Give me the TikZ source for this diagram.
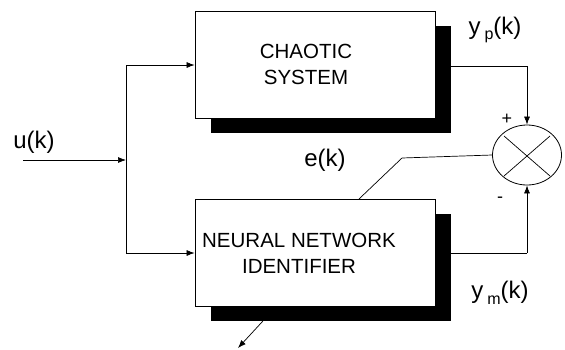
\documentclass[tikz,border=0pt]{standalone}
\usepackage{fontspec}
\setmainfont{Liberation Sans}
\usetikzlibrary{arrows.meta,shapes.geometric,shadows,calc}
\pgfdeclarelayer{background}
\pgfsetlayers{background,main}
\tikzset{
  blk/.style={draw, fill=white, line width=0.8pt, minimum width=240pt, minimum height=107pt, inner sep=0pt,
    drop shadow={shadow xshift=15.5pt, shadow yshift=-14.5pt, fill=black, opacity=1}},
  blktxt/.style={font=\fontsize{20.5}{26}\selectfont, align=center, inner sep=0pt},
  lbl/.style={font=\fontsize{24}{26}\selectfont, inner sep=0pt},
  sgn/.style={font=\fontsize{18}{20}\selectfont, inner sep=0pt},
  wire/.style={line width=0.7pt},
  arr/.style={wire, -{Latex[length=8pt,width=6pt]}}
}
\newcommand{\sbs}[1]{\raisebox{-0.45ex}{\fontsize{16}{16}\selectfont #1}}
\begin{document}
\begin{tikzpicture}[x=1pt,y=-1pt]
\useasboundingbox (0,0) rectangle (565,349);
% blocks
\node[blk] (cs) at (315,64.5) {};
\node[blk] (nn) at (315,253) {};
\node[blktxt] (cst) at (306,64) {CHAOTIC\\SYSTEM};
\node[blktxt] (nnt) at (299,253) {NEURAL NETWORK\\IDENTIFIER};
% summing junction
\node[draw, ellipse, line width=0.8pt, minimum width=69pt, minimum height=60pt, inner sep=0pt] (sum) at (527,155) {};
\draw[wire] ($(sum.center)+(-23,-19)$) -- ($(sum.center)+(23,21)$);
\draw[wire] ($(sum.center)+(23,-19)$) -- ($(sum.center)+(-23,21)$);
% coordinates
\coordinate (uin) at (23,160);
\coordinate (jn) at (126,160);
\coordinate (jt) at (126,65);
\coordinate (jb) at (126,253);
\coordinate (yp) at (527,66);
\coordinate (ym) at (527,253);
\coordinate (e1) at (402,158);
\coordinate (e2) at (359,199);
\coordinate (e3) at (262,322);
\coordinate (eout) at (238,348);
\begin{pgfonlayer}{background}
\draw[arr] (uin) -- (jn);
\draw[wire] (jt) -- (jb);
\draw[arr] (jt) -- (jt -| cs.west);
\draw[arr] (jb) -- (jb -| nn.west);
\draw[wire] (yp -| cs.east) -- (yp);
\draw[arr] (yp) -- (sum.north);
\draw[wire] (ym -| nn.east) -- (ym);
\draw[arr] (ym) -- (sum.south);
\draw[wire] (sum.west) -- (e1) -- (e2) -- (e3);
\draw[arr] (e3) -- (eout);
\end{pgfonlayer}
% labels
\node[lbl] (lu) at (34,142) {u(k)};
\node[lbl] (le) at (325,160) {e(k)};
\node[lbl] (lyp) at (495,30) {y\,\sbs{p}(k)};
\node[lbl] (lym) at (500,293) {y\,\sbs{m}(k)};
\node[sgn] (lplus) at (507,119) {+};
\node[sgn] (lminus) at (500,200) {-};
\end{tikzpicture}
\end{document}
